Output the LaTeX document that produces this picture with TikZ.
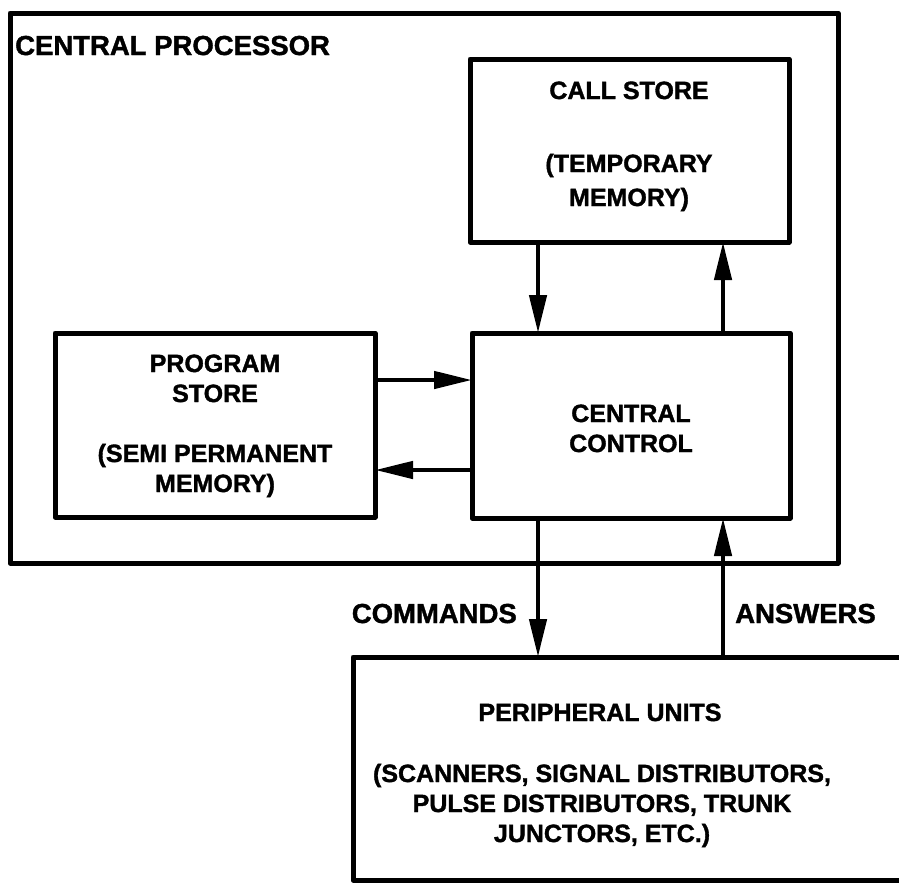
\documentclass[tikz,border=0pt]{standalone}
\usepackage{fontspec}
\setmainfont{Liberation Sans}
\newfontfamily\lblfont{Liberation Sans Bold}[FakeBold=1.4]
\usetikzlibrary{arrows.meta}

\begin{document}
\begin{tikzpicture}[x=1pt,y=-1pt,
  box/.style={draw, line width=5pt, line join=round, inner sep=0pt, outer sep=0pt},
  lbl/.style={font=\lblfont\fontsize{25}{30}\selectfont, anchor=base, inner sep=0pt},
  biglbl/.style={lbl, font=\lblfont\fontsize{27.5}{30}\selectfont},
  arr/.style={line width=4.5pt, -{Triangle[length=38pt,width=17pt]}}]

% page area; the peripheral box runs off the right edge
\path[use as bounding box, clip] (0,0) rectangle (899,884);
\fill[white] (0,0) rectangle (899,884);

% boxes
\node[box, minimum width=828pt, minimum height=550pt] (cp) at (424,288) {};
\node[box, minimum width=319pt, minimum height=183pt] (cs) at (629.5,150.5) {};
\node[box, minimum width=318pt, minimum height=185pt] (cc) at (631,425.5) {};
\node[box, minimum width=320pt, minimum height=184pt] (ps) at (215,425) {};
\node[box, minimum width=640pt, minimum height=223pt] (pu) at (673,768.5) {};

% connector positions
\coordinate (xa) at (538,0);
\coordinate (xb) at (723,0);
\coordinate (ya) at (0,380);
\coordinate (yb) at (0,470);

% connectors
\draw[arr] (xa |- cs.south) -- (xa |- cc.north);
\draw[arr] (xb |- cc.north) -- (xb |- cs.south);
\draw[arr] (ps.east |- ya) -- (cc.west |- ya);
\draw[arr] (cc.west |- yb) -- (ps.east |- yb);
\draw[arr] (xa |- cc.south) -- (xa |- pu.north);
\draw[arr] (xb |- pu.north) -- (xb |- cc.south);

% labels
\node[biglbl, anchor=base west] (tcp) at (15,55) {CENTRAL PROCESSOR};

\node[lbl] (tcs1) at (629,99) {CALL STORE};
\node[lbl] (tcs2) at (629,172) {(TEMPORARY};
\node[lbl] (tcs3) at (629,206) {MEMORY)};

\node[lbl] (tps1) at (215,372) {PROGRAM};
\node[lbl] (tps2) at (215,402) {STORE};
\node[lbl] (tps3) at (215,462) {(SEMI PERMANENT};
\node[lbl] (tps4) at (215,492) {MEMORY)};

\node[lbl] (tcc1) at (631,422) {CENTRAL};
\node[lbl] (tcc2) at (631,452) {CONTROL};

\node[biglbl, anchor=base east] (tcmd) at (517,623) {COMMANDS};
\node[biglbl, anchor=base west] (tans) at (735,623) {ANSWERS};

\node[lbl] (tpu1) at (600,721) {PERIPHERAL UNITS};
\node[lbl] (tpu2) at (602,782) {(SCANNERS, SIGNAL DISTRIBUTORS,};
\node[lbl] (tpu3) at (602,812) {PULSE DISTRIBUTORS, TRUNK};
\node[lbl] (tpu4) at (602,842) {JUNCTORS, ETC.)};
\end{tikzpicture}
\end{document}
